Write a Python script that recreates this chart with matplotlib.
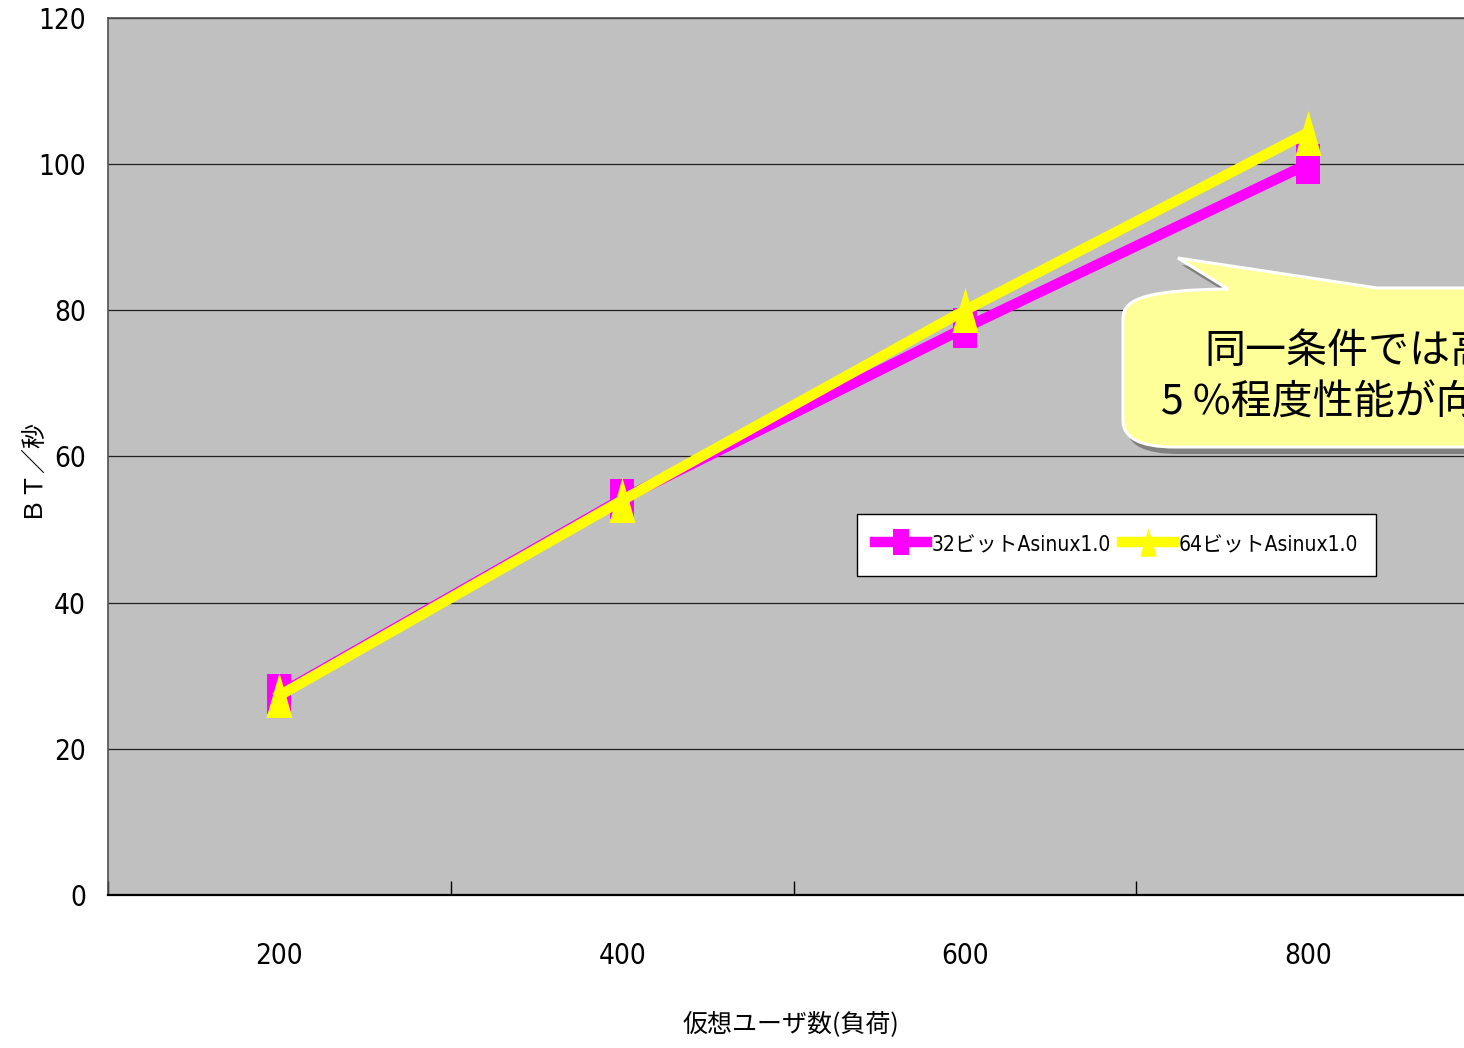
import numpy as np
import matplotlib
matplotlib.use('Agg')
import matplotlib.pyplot as plt
from matplotlib.path import Path
from matplotlib.patches import PathPatch
from matplotlib.transforms import Affine2D

# --- data -------------------------------------------------------------
users = [200, 400, 600, 800]
bt_32bit = [27.5, 54.2, 77.6, 100.0]
bt_64bit = [27.3, 54.0, 80.0, 104.3]
series_names = ['32ビットAsinux1.0', '64ビットAsinux1.0']
y_ticks = [0, 20, 40, 60, 80, 100, 120]
x_title = '仮想ユーザ数(負荷)'
y_title = 'ＢＴ／秒'
note_lines = ['同一条件では高', '5 %程度性能が向']

# --- figure -----------------------------------------------------------
W, H = 1464, 1048
fig = plt.figure(figsize=(W / 100, H / 100), dpi=100)
fig.patch.set_facecolor('white')
ax = fig.add_axes([108 / W, 153 / H, 1371 / W, 877 / H])
ax.set_facecolor('#C0C0C0')

narrow = ['DejaVu Sans', 'Noto Sans CJK JP']
cjk = ['Noto Sans CJK JP', 'DejaVu Sans']

# tall markers: a rectangle and a narrow triangle
rect_marker = Path([(-0.305, -0.5), (0.305, -0.5), (0.305, 0.5),
                    (-0.305, 0.5), (-0.305, -0.5)], closed=True)
tri_marker = Path([(0, 0.5), (-0.289, -0.5), (0.289, -0.5), (0, 0.5)],
                  closed=True)

x = np.arange(len(users))
ax.plot(x, bt_32bit, color='#FF00FF', lw=7.5, marker=rect_marker, ms=29.5,
        mfc='#FF00FF', mec='#FF00FF', mew=0, zorder=3, label=series_names[0])
ax.plot(x, bt_64bit, color='#FFFF00', lw=7.5, marker=tri_marker, ms=32.4,
        mfc='#FFFF00', mec='#FFFF00', mew=0, zorder=4, label=series_names[1])

# axes, grid and ticks
ax.set_xlim(-0.5, len(users) - 0.5)
ax.set_ylim(0, 120)
ax.set_yticks(y_ticks)
ax.set_yticklabels([str(v) for v in y_ticks], family=narrow, fontsize=20,
                   fontstretch='condensed')
ax.set_xticks(x)
ax.set_xticklabels([str(u) for u in users], family=narrow, fontsize=20,
                   fontstretch='condensed')
ax.set_xticks(np.arange(-0.5, len(users), 1.0), minor=True)
ax.tick_params(axis='x', which='major', length=0, pad=34)
ax.tick_params(axis='x', which='minor', direction='in', length=10,
               width=1.0, color='black')
ax.tick_params(axis='y', length=0, pad=16)
ax.yaxis.grid(True, color='#202020', lw=0.9)
ax.set_axisbelow(True)
for side in ['left', 'top', 'right']:
    ax.spines[side].set_color('#505050')
    ax.spines[side].set_linewidth(1.2)
ax.spines['bottom'].set_color('black')
ax.spines['bottom'].set_linewidth(1.6)

ax.set_xlabel(x_title, family=cjk, fontsize=18)
ax.xaxis.set_label_coords((791 - 108) / 1371, (895 - 1024) / 877)
ax.xaxis.label.set_va('center')
ax.set_ylabel(y_title, family=cjk, fontsize=18)
ax.yaxis.set_label_coords((30 - 108) / 1371, (895 - 467) / 877)
ax.yaxis.label.set_va('center')

# legend
leg = ax.legend(loc='upper left', bbox_to_anchor=(857 / W, 1 - 514 / H),
                bbox_transform=fig.transFigure, ncol=2, frameon=True,
                fancybox=False, framealpha=1, edgecolor='black',
                prop={'family': narrow, 'size': 15, 'stretch': 'condensed'},
                markerscale=0.63, handlelength=2.5, handleheight=1.6,
                handletextpad=0.25, columnspacing=0.5,
                borderpad=0.85, borderaxespad=0)
leg.get_frame().set_linewidth(1.0)

# speech-bubble callout, laid out in pixel units from the top-left corner
pix = Affine2D().scale(1 / W, -1 / H).translate(0, 1) + fig.transFigure
bubble_verts = [
    (1228, 289),
    (1150, 290), (1123, 298), (1123, 318),
    (1123, 420),
    (1123, 438), (1140, 447), (1175, 447),
    (1475, 447),
    (1475, 288),
    (1377, 288),
    (1178, 258),
    (1228, 289),
]
bubble_codes = [Path.MOVETO,
                Path.CURVE4, Path.CURVE4, Path.CURVE4,
                Path.LINETO,
                Path.CURVE4, Path.CURVE4, Path.CURVE4,
                Path.LINETO, Path.LINETO, Path.LINETO, Path.LINETO,
                Path.CLOSEPOLY]
bubble = Path(bubble_verts, bubble_codes)
shadow = bubble.transformed(Affine2D().translate(4, 7))
fig.add_artist(PathPatch(shadow, transform=pix, fc='#808080', ec='none',
                         zorder=5))
fig.add_artist(PathPatch(bubble, transform=pix, fc='#FFFF99', ec='white',
                         lw=2.2, zorder=6))
fig.text(1204 / W, 1 - 352 / H, note_lines[0], family=cjk, fontsize=29.5,
         ha='left', va='center', zorder=7)
fig.text(1161 / W, 1 - 403 / H, note_lines[1], family=cjk, fontsize=29.5,
         ha='left', va='center', zorder=7)

fig.savefig('out.png', dpi=100)
